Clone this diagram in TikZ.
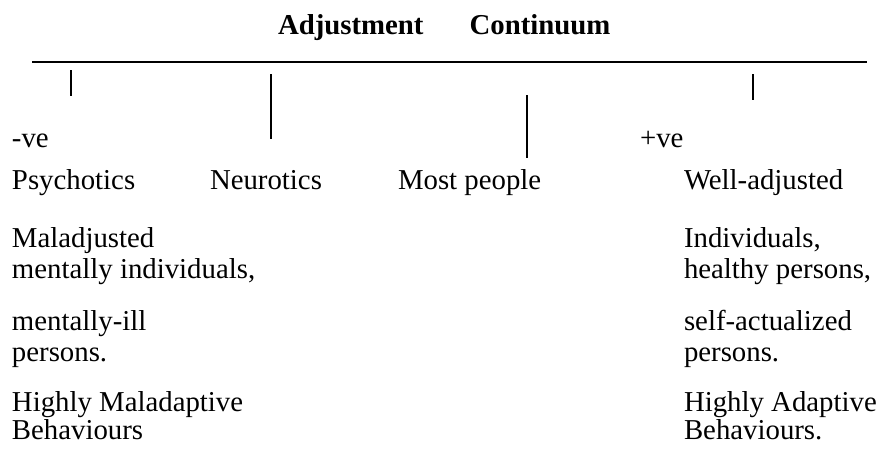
\documentclass[tikz,border=0pt]{standalone}
\usepackage{fontspec}
\setmainfont{Liberation Serif}
\begin{document}
\begin{tikzpicture}[x=1pt,y=-1pt,
  txt/.style={anchor=base west,inner sep=0pt,outer sep=0pt,font=\fontsize{28.8}{30}\selectfont},
  ttl/.style={anchor=base west,inner sep=0pt,outer sep=0pt,font=\fontsize{28.8}{30}\selectfont\bfseries},
  axis/.style={line width=2pt},
  tick/.style={line width=1.3pt}]
\useasboundingbox (0,0) rectangle (890,453);
% title
\node[ttl] (title) at (278,34) {Adjustment\hspace*{46pt}Continuum};
% axis line
\coordinate (L) at (32,62);
\coordinate (R) at (867,62);
\draw[axis] (L) -- (R);
% ticks
\coordinate (t1a) at (71,70);  \coordinate (t1b) at (71,96);
\coordinate (t2a) at (271,74); \coordinate (t2b) at (271,139);
\coordinate (t3a) at (527,95); \coordinate (t3b) at (527,158);
\coordinate (t4a) at (753,74); \coordinate (t4b) at (753,100);
\draw[tick] (t1a) -- (t1b);
\draw[tick] (t2a) -- (t2b);
\draw[tick] (t3a) -- (t3b);
\draw[tick] (t4a) -- (t4b);
% signs
\node[txt] (neg) at (12,147) {-ve};
\node[txt] (pos) at (640,147) {+ve};
% categories
\node[txt] (psy) at (12,189) {Psychotics};
\node[txt] (neu) at (210,189) {Neurotics};
\node[txt] (most) at (398,189) {Most people};
\node[txt] (well) at (684,189) {Well-adjusted};
% left column
\node[txt] (l1) at (12,247) {Maladjusted};
\node[txt] (l2) at (12,278) {mentally individuals,};
\node[txt] (l3) at (12,330) {mentally-ill};
\node[txt] (l4) at (12,361) {persons.};
\node[txt] (l5) at (12,411) {Highly Maladaptive};
\node[txt] (l6) at (12,439) {Behaviours};
% right column
\node[txt] (r1) at (684,247) {Individuals,};
\node[txt] (r2) at (684,278) {healthy persons,};
\node[txt] (r3) at (684,330) {self-actualized};
\node[txt] (r4) at (684,361) {persons.};
\node[txt] (r5) at (684,411) {Highly Adaptive};
\node[txt] (r6) at (684,439) {Behaviours.};
\end{tikzpicture}
\end{document}
